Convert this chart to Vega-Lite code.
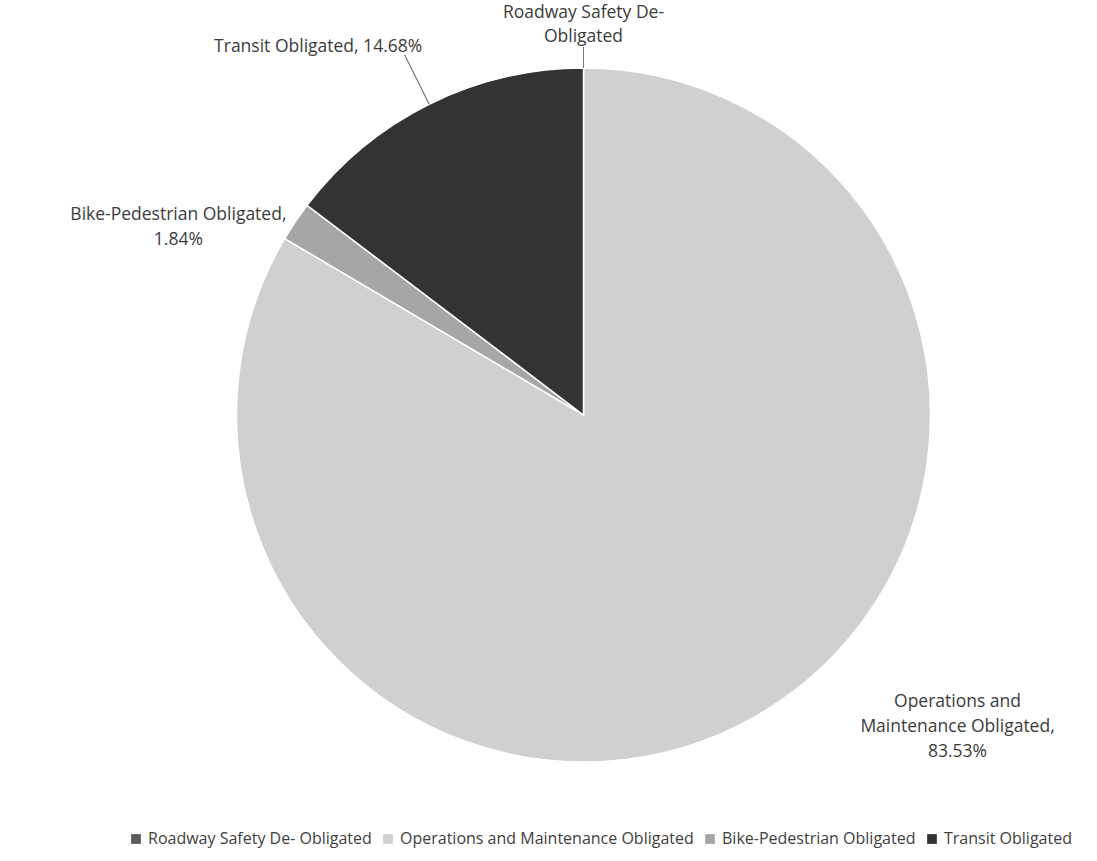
{
  "$schema": "https://vega.github.io/schema/vega-lite/v6.json",
  "width": 1027,
  "height": 800,
  "autosize": {"type": "none"},
  "padding": {"left": 70, "top": 15, "right": 0, "bottom": 46},
  "background": "white",
  "config": {"view": {"stroke": null}, "font": "Open Sans"},
  "data": {
    "values": [
      {"k": 1, "cat": "Roadway Safety De- Obligated", "label": "Roadway Safety De-\nObligated", "pct": 0},
      {"k": 2, "cat": "Operations and Maintenance Obligated", "label": "Operations and\nMaintenance Obligated,\n83.53%", "pct": 83.53},
      {"k": 3, "cat": "Bike-Pedestrian Obligated", "label": "Bike-Pedestrian Obligated,\n1.84%", "pct": 1.84},
      {"k": 4, "cat": "Transit Obligated", "label": "Transit Obligated, 14.68%", "pct": 14.68}
    ]
  },
  "encoding": {
    "theta": {"field": "pct", "type": "quantitative", "stack": true},
    "order": {"field": "k", "type": "quantitative", "sort": "ascending"},
    "detail": {"field": "cat", "type": "nominal"}
  },
  "layer": [
    {
      "mark": {"type": "arc", "radius": 347, "stroke": "white", "strokeWidth": 1.5},
      "encoding": {
        "color": {
          "field": "cat",
          "type": "nominal",
          "scale": {
            "domain": ["Roadway Safety De- Obligated", "Operations and Maintenance Obligated", "Bike-Pedestrian Obligated", "Transit Obligated"],
            "range": ["#5b5b5b", "#d0d0d0", "#a6a6a6", "#333333"]
          },
          "legend": {
            "title": null,
            "orient": "none",
            "legendX": 58,
            "legendY": 816,
            "direction": "horizontal",
            "symbolType": "square",
            "symbolSize": 95,
            "symbolStrokeWidth": 0,
            "labelFontSize": 16,
            "labelColor": "#404040",
            "labelFont": "Open Sans",
            "labelLimit": 500,
            "columnPadding": 8
          }
        }
      }
    },
    {
      "mark": {"type": "arc", "radius": 368, "radius2": 347, "padAngle": 1, "filled": false, "stroke": "#7a7a7a", "strokeWidth": 1},
      "encoding": {"strokeOpacity": {"condition": {"test": "datum.k === 1", "value": 1}, "value": 0}}
    },
    {
      "mark": {"type": "arc", "radius": 402, "radius2": 347, "padAngle": 1, "filled": false, "stroke": "#7a7a7a", "strokeWidth": 1},
      "encoding": {"strokeOpacity": {"condition": {"test": "datum.k === 4", "value": 1}, "value": 0}}
    },
    {
      "mark": {"type": "text", "radius": 347, "dx": 0, "dy": -55, "align": "center", "baseline": "middle", "lineBreak": "\n", "lineHeight": 24, "fontSize": 17.5, "color": "#3c3c3c"},
      "encoding": {"text": {"condition": {"test": "datum.k === 1", "field": "label"}, "value": ""}}
    },
    {
      "mark": {"type": "text", "radius": 347, "dx": 202, "dy": -14, "align": "center", "baseline": "middle", "lineBreak": "\n", "lineHeight": 25, "fontSize": 17.5, "color": "#3c3c3c"},
      "encoding": {"text": {"condition": {"test": "datum.k === 2", "field": "label"}, "value": ""}}
    },
    {
      "mark": {"type": "text", "radius": 347, "dx": -117, "dy": -7, "align": "center", "baseline": "middle", "lineBreak": "\n", "lineHeight": 25, "fontSize": 17.5, "color": "#3c3c3c"},
      "encoding": {"text": {"condition": {"test": "datum.k === 3", "field": "label"}, "value": ""}}
    },
    {
      "mark": {"type": "text", "radius": 347, "dx": -111, "dy": -57, "align": "center", "baseline": "middle", "lineBreak": "\n", "lineHeight": 25, "fontSize": 17.5, "color": "#3c3c3c"},
      "encoding": {"text": {"condition": {"test": "datum.k === 4", "field": "label"}, "value": ""}}
    }
  ]
}
